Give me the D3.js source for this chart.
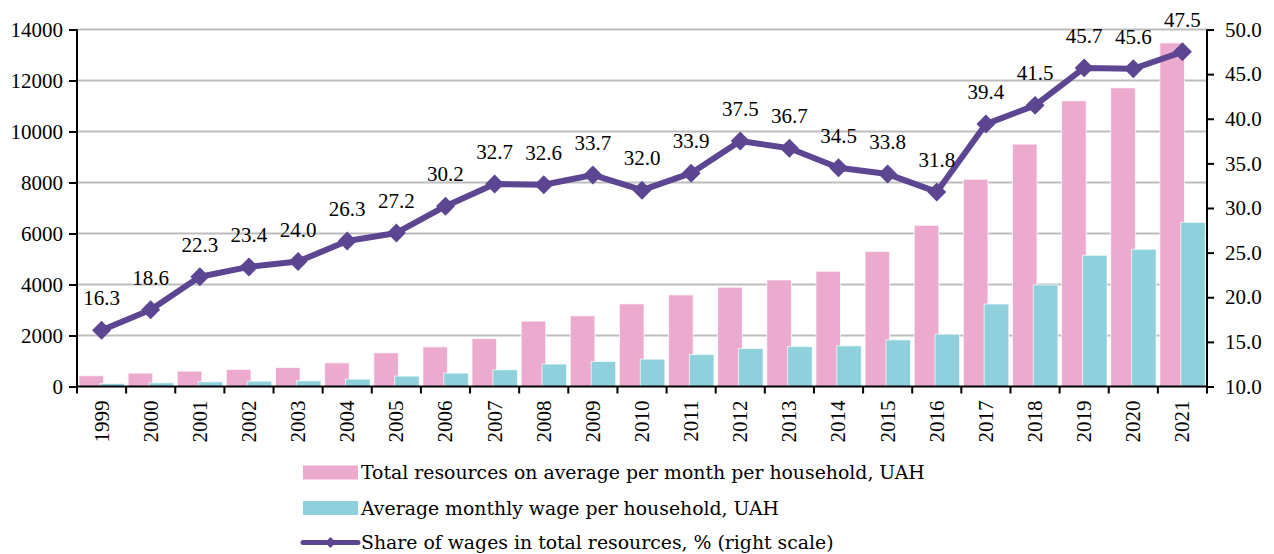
<!DOCTYPE html>
<html>
<head>
<meta charset="utf-8">
<script src="https://cdn.jsdelivr.net/npm/d3@7/dist/d3.min.js"></script>
<style>
  html, body { margin: 0; padding: 0; background: #ffffff; }
  svg { display: block; font-family: "Liberation Serif", serif; }
</style>
</head>
<body>
<svg id="chart" width="1274" height="554"></svg>
<script>
const years = ["1999","2000","2001","2002","2003","2004","2005","2006","2007","2008","2009","2010","2011","2012","2013","2014","2015","2016","2017","2018","2019","2020","2021"];
const totalResources = [420, 525, 603, 666, 744, 928, 1320, 1555, 1880, 2562, 2769, 3240, 3592, 3893, 4180, 4520, 5295, 6320, 8125, 9505, 11203, 11712, 13474];
const avgWage = [118, 145, 184, 210, 223, 290, 407, 525, 654, 880, 979, 1073, 1253, 1488, 1567, 1594, 1829, 2052, 3235, 3983, 5147, 5382, 6440];
const wageShare = [16.3, 18.6, 22.3, 23.4, 24.0, 26.3, 27.2, 30.2, 32.7, 32.6, 33.7, 32.0, 33.9, 37.5, 36.7, 34.5, 33.8, 31.8, 39.4, 41.5, 45.7, 45.6, 47.5];
const leftTicks = [0, 2000, 4000, 6000, 8000, 10000, 12000, 14000];
const rightTicks = [10, 15, 20, 25, 30, 35, 40, 45, 50];
const legendLabels = [
  "Total resources on average per month per household, UAH",
  "Average monthly wage per household, UAH",
  "Share of wages in total resources, % (right scale)"
];

const C_PINK = "#EBAACE", C_CYAN = "#8ED1DC", C_PURPLE = "#5C4591", C_GRID = "#BDBDBD";
const L = 77, R = 1207, T = 29.5, B = 386.5;

const svg = d3.select("#chart");
const x = d3.scaleBand().domain(years).range([L, R]).padding(0);
const yL = d3.scaleLinear().domain([0, 14000]).range([B, T]);
const yR = d3.scaleLinear().domain([10, 50]).range([B, T]);
const bw = x.bandwidth();

// gridlines
svg.append("g").selectAll("line").data(leftTicks.filter(d => d > 0)).join("line")
  .attr("x1", L).attr("x2", R).attr("y1", d => yL(d)).attr("y2", d => yL(d))
  .attr("stroke", C_GRID).attr("stroke-width", 2);

// bars
const bars = svg.append("g");
bars.selectAll("rect.p").data(totalResources).join("rect").attr("class", "p")
  .attr("x", (d, i) => x(years[i]) + 2).attr("width", bw * 0.5)
  .attr("y", d => yL(d)).attr("height", d => B - yL(d))
  .attr("fill", C_PINK).attr("stroke", "#fff").attr("stroke-width", 1).attr("stroke-opacity", 0.7);
bars.selectAll("rect.c").data(avgWage).join("rect").attr("class", "c")
  .attr("x", (d, i) => x(years[i]) + bw * 0.465).attr("width", bw * 0.5)
  .attr("y", d => yL(d)).attr("height", d => B - yL(d))
  .attr("fill", C_CYAN).attr("stroke", "#fff").attr("stroke-width", 1).attr("stroke-opacity", 0.7);

// left axis
const gl = svg.append("g").attr("transform", `translate(${L},0)`)
  .call(d3.axisLeft(yL).tickValues(leftTicks).tickFormat(d3.format("d")).tickSize(8).tickPadding(6));
// right axis
const gr = svg.append("g").attr("transform", `translate(${R},0)`)
  .call(d3.axisRight(yR).tickValues(rightTicks).tickFormat(d3.format(".1f")).tickSize(7).tickPadding(11));
// bottom axis: ticks at band boundaries
const gb = svg.append("g").attr("transform", `translate(0,${B})`)
  .call(d3.axisBottom(x).tickSize(0).tickPadding(0));
[gl, gr, gb].forEach(g => {
  g.select(".domain").attr("stroke", "#000").attr("stroke-width", 2);
  g.selectAll(".tick line").attr("stroke", "#000").attr("stroke-width", 2);
  g.selectAll("text").attr("font-family", "Liberation Serif, serif").attr("font-size", 21).attr("fill", "#000");
});
gl.select(".domain").attr("d", `M0,${T}V${B}`);
gr.select(".domain").attr("d", `M0,${T}V${B}`);
gb.select(".domain").attr("d", `M${L},0H${R}`);
gb.selectAll(".tick text")
  .attr("transform", "rotate(-90)")
  .attr("text-anchor", "end").attr("dy", "0.33em").attr("x", -14).attr("y", 0);
const boundaries = d3.range(years.length + 1).map(i => L + i * bw);
gb.append("g").selectAll("line").data(boundaries).join("line")
  .attr("x1", d => d).attr("x2", d => d).attr("y1", 0).attr("y2", 7)
  .attr("stroke", "#000").attr("stroke-width", 2);

// line
svg.append("path").datum(wageShare)
  .attr("d", d3.line().x((d, i) => x(years[i]) + bw / 2).y(d => yR(d)))
  .attr("fill", "none").attr("stroke", C_PURPLE).attr("stroke-width", 6).attr("stroke-linejoin", "round");
const diamond = d3.symbol().type(d3.symbolSquare).size(180);
svg.append("g").selectAll("path").data(wageShare).join("path")
  .attr("d", diamond())
  .attr("transform", (d, i) => `translate(${x(years[i]) + bw / 2},${yR(d)}) rotate(45)`)
  .attr("fill", C_PURPLE);
svg.append("g").selectAll("text").data(wageShare).join("text")
  .attr("x", (d, i) => x(years[i]) + bw / 2).attr("y", d => yR(d) - 25)
  .attr("text-anchor", "middle").attr("font-size", 21).attr("fill", "#000")
  .text(d => d3.format(".1f")(d));

// legend
const lg = svg.append("g").attr("transform", "translate(303,0)");
const rowY = [472.5, 508, 542.5];
lg.append("rect").attr("x", 0).attr("y", rowY[0] - 7).attr("width", 55).attr("height", 14).attr("fill", C_PINK);
lg.append("rect").attr("x", 0).attr("y", rowY[1] - 7).attr("width", 55).attr("height", 14).attr("fill", C_CYAN);
lg.append("line").attr("x1", 0).attr("x2", 55).attr("y1", rowY[2]).attr("y2", rowY[2])
  .attr("stroke", C_PURPLE).attr("stroke-width", 5).attr("stroke-linecap", "round");
lg.append("path").attr("d", d3.symbol().type(d3.symbolSquare).size(60)())
  .attr("transform", `translate(27.5,${rowY[2]}) rotate(45)`).attr("fill", C_PURPLE);
const lt = lg.selectAll("text").data(legendLabels).join("text")
  .attr("x", 58).attr("y", (d, i) => rowY[i]).attr("dy", "0.35em")
  .attr("font-family", "DejaVu Serif, serif")
  .attr("font-size", 17).attr("fill", "#000").text(d => d);
// fit the first legend entry to the reference width (~564px)
const w0 = lt.node().getComputedTextLength();
const fs = Math.max(14, Math.min(20, 17 * 564 / w0));
lt.attr("font-size", fs);
</script>
</body>
</html>
